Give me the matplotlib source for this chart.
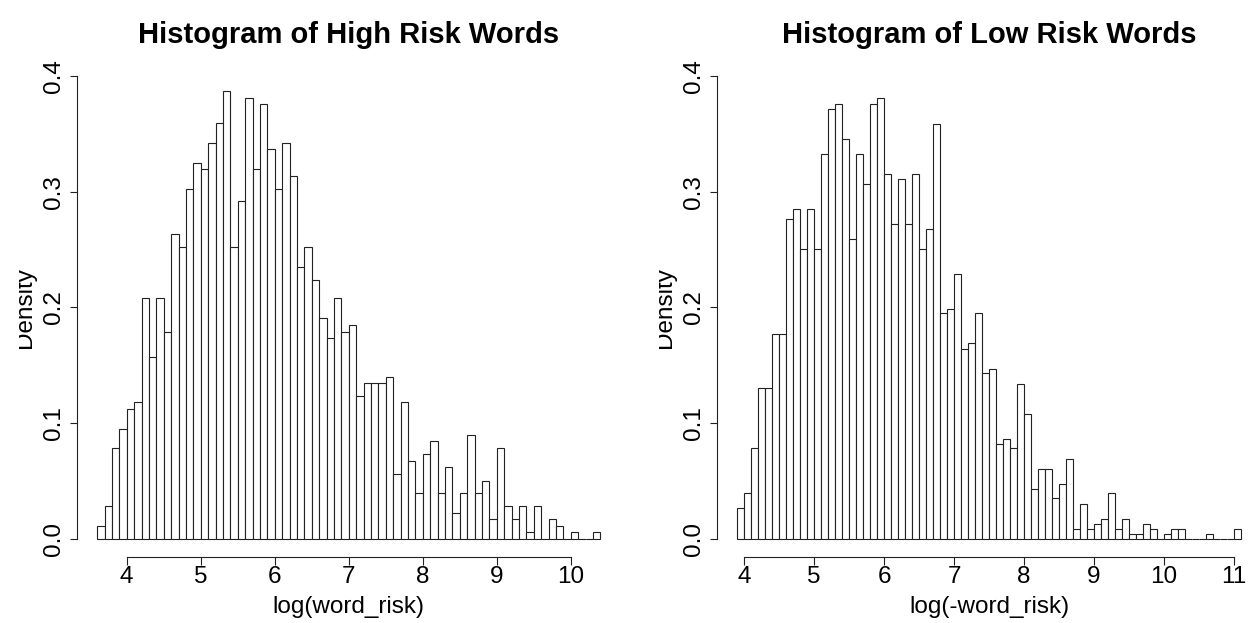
import numpy as np
import matplotlib
matplotlib.use("Agg")
import matplotlib.pyplot as plt
from matplotlib.transforms import Bbox, TransformedBbox

# Histogram densities (bin width 0.1) for the two word groups
high_start = 3.6
high_density = [
    0.011, 0.028, 0.078, 0.095, 0.112, 0.118, 0.208, 0.157, 0.208, 0.179,
    0.264, 0.252, 0.303, 0.325, 0.320, 0.342, 0.360, 0.387, 0.252, 0.292,
    0.381, 0.320, 0.376, 0.337, 0.303, 0.342, 0.314, 0.235, 0.252, 0.224,
    0.191, 0.174, 0.208, 0.179, 0.185, 0.123, 0.135, 0.135, 0.135, 0.140,
    0.056, 0.118, 0.067, 0.039, 0.073, 0.084, 0.039, 0.062, 0.022, 0.039,
    0.090, 0.039, 0.050, 0.017, 0.078, 0.028, 0.017, 0.028, 0.0056, 0.028,
    0.0, 0.017, 0.011, 0.0, 0.0056, 0.0, 0.0, 0.0056,
]

low_start = 3.9
low_density = [
    0.026, 0.039, 0.078, 0.130, 0.130, 0.177, 0.177, 0.277, 0.285, 0.251,
    0.285, 0.251, 0.333, 0.372, 0.376, 0.346, 0.259, 0.333, 0.307, 0.376,
    0.381, 0.316, 0.272, 0.311, 0.272, 0.316, 0.251, 0.268, 0.359, 0.195,
    0.199, 0.229, 0.164, 0.169, 0.195, 0.143, 0.147, 0.082, 0.086, 0.078,
    0.134, 0.108, 0.043, 0.060, 0.060, 0.035, 0.047, 0.069, 0.0085, 0.030,
    0.0085, 0.013, 0.017, 0.039, 0.0085, 0.017, 0.0043, 0.0043, 0.013, 0.0085,
    0.0, 0.0043, 0.0085, 0.0085, 0.0, 0.0, 0.0, 0.0043, 0.0, 0.0, 0.0, 0.0085,
]

bin_width = 0.1
high_xticks = [4, 5, 6, 7, 8, 9, 10]
low_xticks = [4, 5, 6, 7, 8, 9, 10, 11]
yticks = [0.0, 0.1, 0.2, 0.3, 0.4]
ytick_labels = ["0.0", "0.1", "0.2", "0.3", "0.4"]

titles = ["Histogram of High Risk Words", "Histogram of Low Risk Words"]
xlabels = ["log(word_risk)", "log(-word_risk)"]

plt.rcParams["font.family"] = ["Liberation Sans", "DejaVu Sans"]

W, H = 1251, 623
fig = plt.figure(figsize=(W / 100, H / 100), dpi=100)
fig.patch.set_facecolor("white")

ink = "#222222"
lw = 0.8
fs = 17.5

panels = [
    dict(start=high_start, dens=high_density, xt=high_xticks,
         rect=[77 / W, 66 / H, 543.5 / W, 499 / H], clip_x=18.5),
    dict(start=low_start, dens=low_density, xt=low_xticks,
         rect=[717 / W, 66 / H, 544 / W, 499 / H], clip_x=658.8),
]

for i, p in enumerate(panels):
    ax = fig.add_axes(p["rect"])
    dens = np.asarray(p["dens"])
    n = len(dens)
    edges = np.round(p["start"] + bin_width * np.arange(n + 1), 1)
    ax.bar(edges[:-1], dens, width=bin_width, align="edge",
           facecolor="white", edgecolor=ink, linewidth=lw)

    lo, hi = edges[0], edges[-1]
    pad = 0.04 * (hi - lo)
    ax.set_xlim(lo - pad, hi + pad)
    ax.set_ylim(-0.016, 0.416)

    for s in ("top", "right"):
        ax.spines[s].set_visible(False)
    for s in ("left", "bottom"):
        ax.spines[s].set_color(ink)
        ax.spines[s].set_linewidth(lw)
    ax.spines["bottom"].set_bounds(p["xt"][0], p["xt"][-1])
    ax.spines["left"].set_bounds(0.0, 0.4)

    ax.set_xticks(p["xt"])
    ax.set_xticklabels([str(v) for v in p["xt"]])
    ax.set_yticks(yticks)
    ax.set_yticklabels(ytick_labels)
    ax.tick_params(axis="both", direction="out", length=5.4, width=lw,
                   color=ink, labelsize=fs, labelcolor="black")
    ax.tick_params(axis="x", pad=1.1)
    ax.tick_params(axis="y", pad=2.95, labelrotation=90)
    for t in ax.get_yticklabels():
        t.set_verticalalignment("center")

    ax.set_title(titles[i], fontsize=21, fontweight="bold", pad=10.8)
    ax.set_xlabel(xlabels[i], fontsize=fs)
    ax.xaxis.set_label_coords(0.5, -0.0782)
    ax.set_ylabel("Density", fontsize=fs)
    ax.yaxis.set_label_coords(-0.0747, 0.5)

    # the y label is cut off at the left edge of each panel's image area
    clip = TransformedBbox(Bbox.from_extents(p["clip_x"] / W, 0, 1, 1),
                           fig.transFigure)
    lab = ax.yaxis.label
    lab.set_clip_box(clip)
    lab.set_clip_on(True)

fig.savefig("out.png", dpi=100, facecolor="white")
